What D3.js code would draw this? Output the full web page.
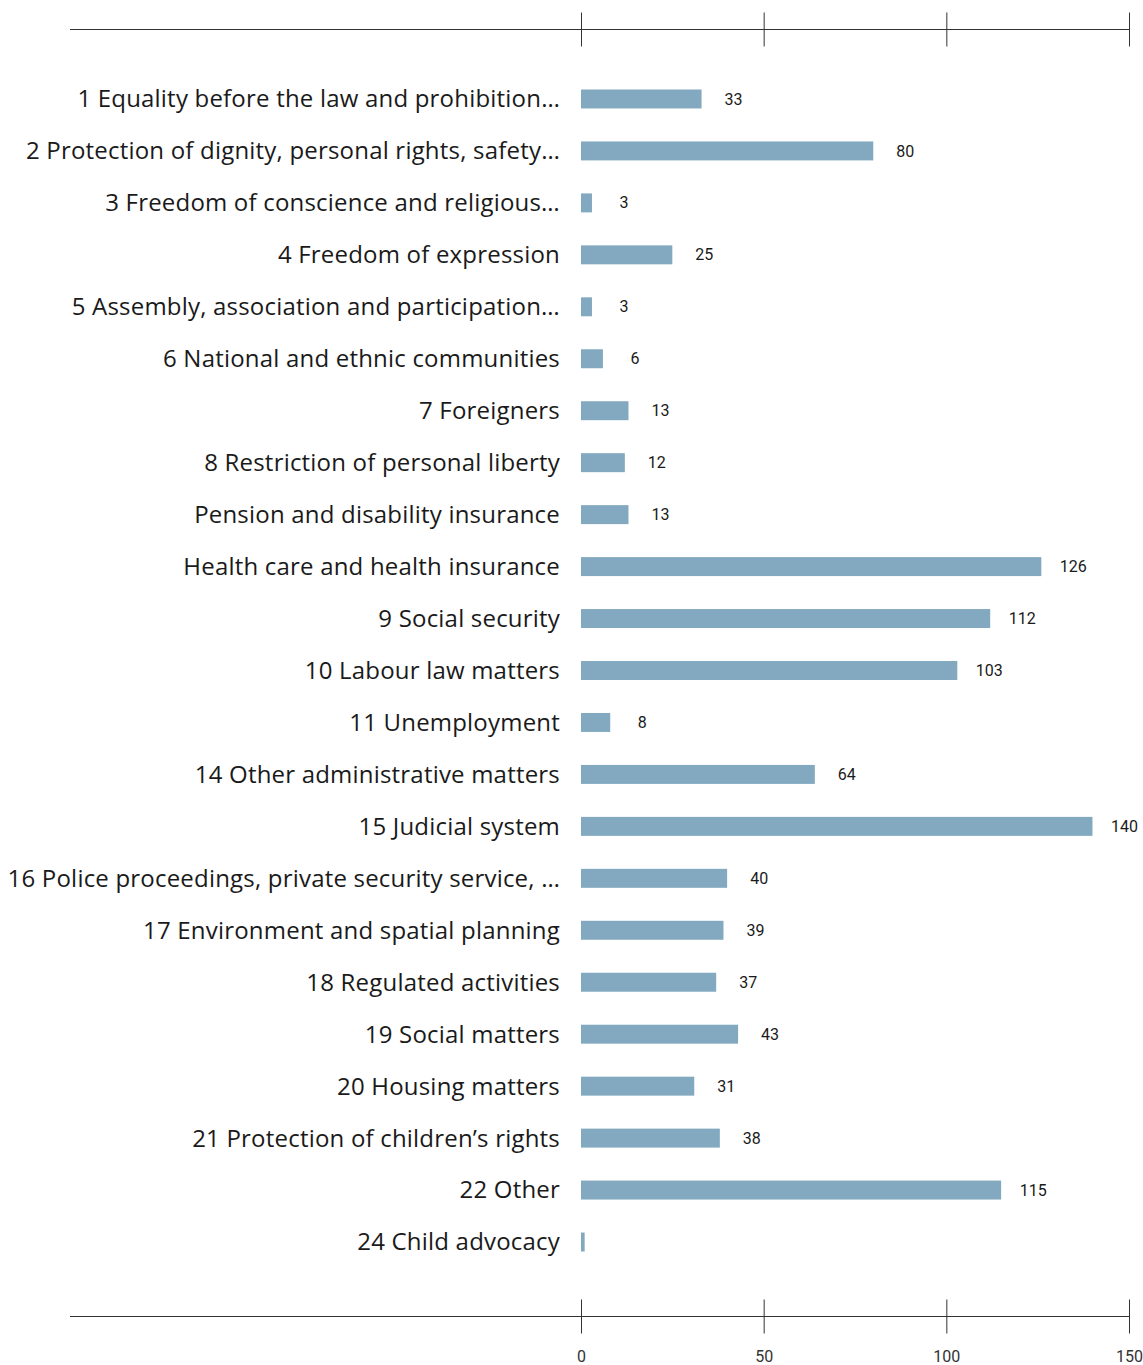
<!DOCTYPE html>
<html>
<head>
<meta charset="utf-8">
<script src="https://cdn.jsdelivr.net/npm/d3@7"></script>
<style>
  body { margin: 0; background: #fff; }
  svg { display: block; font-family: Roboto, "Noto Sans", sans-serif; }
</style>
</head>
<body>
<div id="chart"></div>
<script>
const categories = [
  "1 Equality before the law and prohibition…",
  "2 Protection of dignity, personal rights, safety…",
  "3 Freedom of conscience and religious…",
  "4 Freedom of expression",
  "5 Assembly, association and participation…",
  "6 National and ethnic communities",
  "7 Foreigners",
  "8 Restriction of personal liberty",
  "Pension and disability insurance",
  "Health care and health insurance",
  "9 Social security",
  "10 Labour law matters",
  "11 Unemployment",
  "14 Other administrative matters",
  "15 Judicial system",
  "16 Police proceedings, private security service, …",
  "17 Environment and spatial planning",
  "18 Regulated activities",
  "19 Social matters",
  "20 Housing matters",
  "21 Protection of children’s rights",
  "22 Other",
  "24 Child advocacy"
];

const values = [33, 80, 3, 25, 3, 6, 13, 12, 13, 126, 112, 103, 8, 64, 140, 40, 39, 37, 43, 31, 38, 115, 1];

const tickValues = [0, 50, 100, 150];

const colors = {
  bar: "#82a9bf",
  text: "#1a1a1a",
  axis: "#333333"
};

const width = 1143;
const height = 1365;

const data = categories.map((c, i) => ({ name: c, value: values[i] }));

const svg = d3.select("#chart")
  .append("svg")
  .attr("width", width)
  .attr("height", height);

const x = d3.scaleLinear()
  .domain([0, 150])
  .range([581, 1129]);

const y = d3.scaleBand()
  .domain(categories)
  .range([73, 1268])
  .paddingInner(0.635)
  .paddingOuter(0.3175);

// axes, top one without labels, ticks crossing the line
function drawAxis(yPos, showLabels) {
  const g = svg.append("g")
    .attr("transform", `translate(0,${yPos})`);

  g.append("line")
    .attr("x1", 70)
    .attr("x2", x(150) + 1)
    .attr("stroke", colors.axis)
    .attr("stroke-width", 1);

  const ax = g.append("g")
    .call(d3.axisBottom(x).tickValues(tickValues).tickSizeOuter(0).tickSize(17));

  ax.select(".domain").remove();
  ax.selectAll(".tick line")
    .attr("y1", -17)
    .attr("y2", 17)
    .attr("stroke", colors.axis);

  if (showLabels) {
    ax.selectAll(".tick text")
      .attr("y", 39.5)
      .attr("dy", "0.35em")
      .style("font-family", "Roboto, sans-serif")
      .style("font-size", "16px")
      .style("fill", colors.axis);
  } else {
    ax.selectAll(".tick text").remove();
  }
}

drawAxis(29.5, false);
drawAxis(1316.5, true);

// bars
svg.selectAll(".bar")
  .data(data)
  .enter()
  .append("rect")
  .attr("class", "bar")
  .attr("x", x(0))
  .attr("y", d => y(d.name))
  .attr("width", d => x(d.value) - x(0))
  .attr("height", y.bandwidth())
  .attr("fill", colors.bar);

// category labels
svg.selectAll(".cat-label")
  .data(data)
  .enter()
  .append("text")
  .attr("class", "cat-label")
  .attr("x", 560)
  .attr("y", d => y(d.name) + y.bandwidth() / 2)
  .attr("dy", "0.35em")
  .attr("text-anchor", "end")
  .style("font-family", "'Open Sans', sans-serif")
  .style("font-size", "24px")
  .style("letter-spacing", "0.2px")
  .style("fill", colors.text)
  .text(d => d.name);

// value labels (the tiny last bar has none)
svg.selectAll(".val-label")
  .data(data.filter(d => d.value > 1))
  .enter()
  .append("text")
  .attr("class", "val-label")
  .attr("x", d => x(d.value) + 32)
  .attr("y", d => y(d.name) + y.bandwidth() / 2)
  .attr("dy", "0.35em")
  .attr("text-anchor", "middle")
  .style("font-size", "16px")
  .style("fill", colors.text)
  .text(d => d.value);
</script>
</body>
</html>
